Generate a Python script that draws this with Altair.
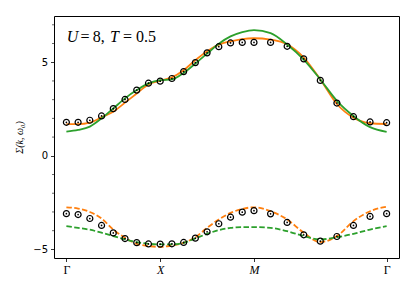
import altair as alt
import pandas as pd

# k-path coordinates (Γ -> X -> M -> Γ)
K = [0.0, 0.125, 0.25, 0.375, 0.5, 0.625, 0.75, 0.875, 1.0,
     1.125, 1.25, 1.375, 1.5, 1.625, 1.75, 1.875, 2.0,
     2.1768, 2.3536, 2.5303, 2.7071, 2.8839, 3.0607, 3.2374, 3.4142]
K_TICKS = [0.0, 1.0, 2.0, 3.4142]
K_LABELS = ["Γ", "X", "M", "Γ"]

# upper branch
PTS_UP = [1.79, 1.79, 1.90, 2.13, 2.52, 3.01, 3.51, 3.88, 3.99, 4.13, 4.50, 4.98, 5.50,
          5.83, 6.03, 6.06, 6.06, 6.06, 5.85, 5.18, 4.03, 2.82, 2.09, 1.81, 1.77]
ORANGE_UP = [1.69, 1.69, 1.77, 2.06, 2.36, 2.84, 3.33, 3.81, 4.01, 4.19, 4.57, 5.11, 5.59,
             5.94, 6.12, 6.24, 6.28, 6.21, 5.96, 5.25, 4.08, 2.77, 2.04, 1.74, 1.70]
GREEN_UP = [1.29, 1.38, 1.56, 2.00, 2.53, 3.07, 3.51, 3.87, 4.04, 4.08, 4.43, 4.93, 5.46,
            5.99, 6.38, 6.61, 6.72, 6.56, 5.95, 5.14, 4.08, 2.94, 2.13, 1.53, 1.28]

# lower branch
PTS_LO = [-3.09, -3.14, -3.35, -3.72, -4.12, -4.42, -4.64, -4.71, -4.72, -4.70, -4.63, -4.40, -4.06,
          -3.63, -3.28, -3.01, -2.93, -3.10, -3.56, -4.22, -4.56, -4.31, -3.72, -3.24, -3.09]
ORANGE_LO = [-2.75, -2.82, -3.00, -3.35, -3.94, -4.38, -4.70, -4.82, -4.87, -4.79, -4.65, -4.35, -3.85,
             -3.40, -3.05, -2.84, -2.75, -2.96, -3.40, -4.11, -4.61, -4.29, -3.49, -2.96, -2.72]
GREEN_LO = [-3.76, -3.85, -3.95, -4.11, -4.29, -4.47, -4.61, -4.70, -4.73, -4.73, -4.65, -4.41, -4.17,
            -3.97, -3.85, -3.81, -3.81, -3.85, -4.03, -4.29, -4.47, -4.35, -4.17, -3.94, -3.76]

Y_MINOR = [-4, -3, -2, -1, 1, 2, 3, 4, 6, 7]

ORANGE = "#ff7f0e"
GREEN = "#2ca02c"

XDOM = [-0.132, 3.546]
YDOM = [-5.46, 7.47]

def frame(vals):
    return pd.DataFrame({"k": K, "s": vals})

label_expr = " : ".join(
    f"abs(datum.value - {t}) < 0.01 ? '{l}'" for t, l in zip(K_TICKS, K_LABELS)
) + " : ''"

xs = alt.Scale(domain=XDOM, nice=False, zero=False)
ys = alt.Scale(domain=YDOM, nice=False, zero=False)

x_enc = alt.X("k:Q", scale=xs, title=None,
              axis=alt.Axis(values=K_TICKS, labelExpr=label_expr, grid=False, domain=False,
                            tickSize=3.5, tickColor="black", tickWidth=0.8,
                            labelFont="Liberation Serif", labelFontSize=12, labelColor="black",
                            labelPadding=3,
                            labelFontStyle={"condition": {"test": "datum.value > 0.5 && datum.value < 2.5",
                                                          "value": "italic"}, "value": "normal"}))
y_enc = alt.Y("s:Q", scale=ys, title="Σ(k, ω₀)",
              axis=alt.Axis(values=[-5, 0, 5], grid=False, domain=False, tickSize=3.5,
                            tickColor="black", tickWidth=0.8,
                            labelFont="DejaVu Sans", labelFontSize=10, labelColor="black",
                            labelPadding=3,
                            titleFont="Liberation Serif", titleFontSize=10, titleFontWeight="normal",
                            titleFontStyle="italic", titleColor="black", titlePadding=8))

def line(vals, color, dashed=False):
    kw = dict(color=color, strokeWidth=1.8, interpolate="monotone")
    if dashed:
        kw["strokeDash"] = [5.5, 2.4]
    return alt.Chart(frame(vals)).mark_line(**kw).encode(x=x_enc, y=y_enc)

def points(vals):
    ring = alt.Chart(frame(vals)).mark_point(shape="circle", filled=False, color="black",
                                             strokeWidth=1.2, size=36, opacity=1).encode(x=x_enc, y=y_enc)
    dot = alt.Chart(frame(vals)).mark_point(shape="circle", filled=True, color="black",
                                            size=3, opacity=1).encode(x=x_enc, y=y_enc)
    return ring + dot

minor = alt.Chart(pd.DataFrame({"s": Y_MINOR})).mark_rule(color="black", strokeWidth=0.6).encode(
    x=alt.value(-2), x2=alt.value(0), y=y_enc)

# annotation "U = 8, T = 0.5"
ann_parts = [("U", 12.7, "italic"), ("=", 26.5, "normal"), ("8,", 38.7, "normal"),
             ("T", 56, "italic"), ("=", 69, "normal"), ("0.5", 82, "normal")]
ann = None
for txt, xp, st in ann_parts:
    t = alt.Chart(pd.DataFrame({"t": [txt]})).mark_text(
        font="Liberation Serif", fontSize=16, fontStyle=st, align="left", baseline="alphabetic",
        color="black").encode(x=alt.value(xp), y=alt.value(26), text="t:N")
    ann = t if ann is None else ann + t

chart = alt.layer(
    line(ORANGE_UP, ORANGE), line(GREEN_UP, GREEN),
    line(ORANGE_LO, ORANGE, True), line(GREEN_LO, GREEN, True),
    points(PTS_UP), points(PTS_LO), minor, ann
).properties(
    width=345, height=242,
    autosize=alt.AutoSizeParams(type="none"),
    padding={"left": 46, "top": 8, "right": 8, "bottom": 25},
).configure_view(stroke="black", strokeWidth=1)

chart.save("out.html", embed_options={"renderer": "svg", "actions": False})
